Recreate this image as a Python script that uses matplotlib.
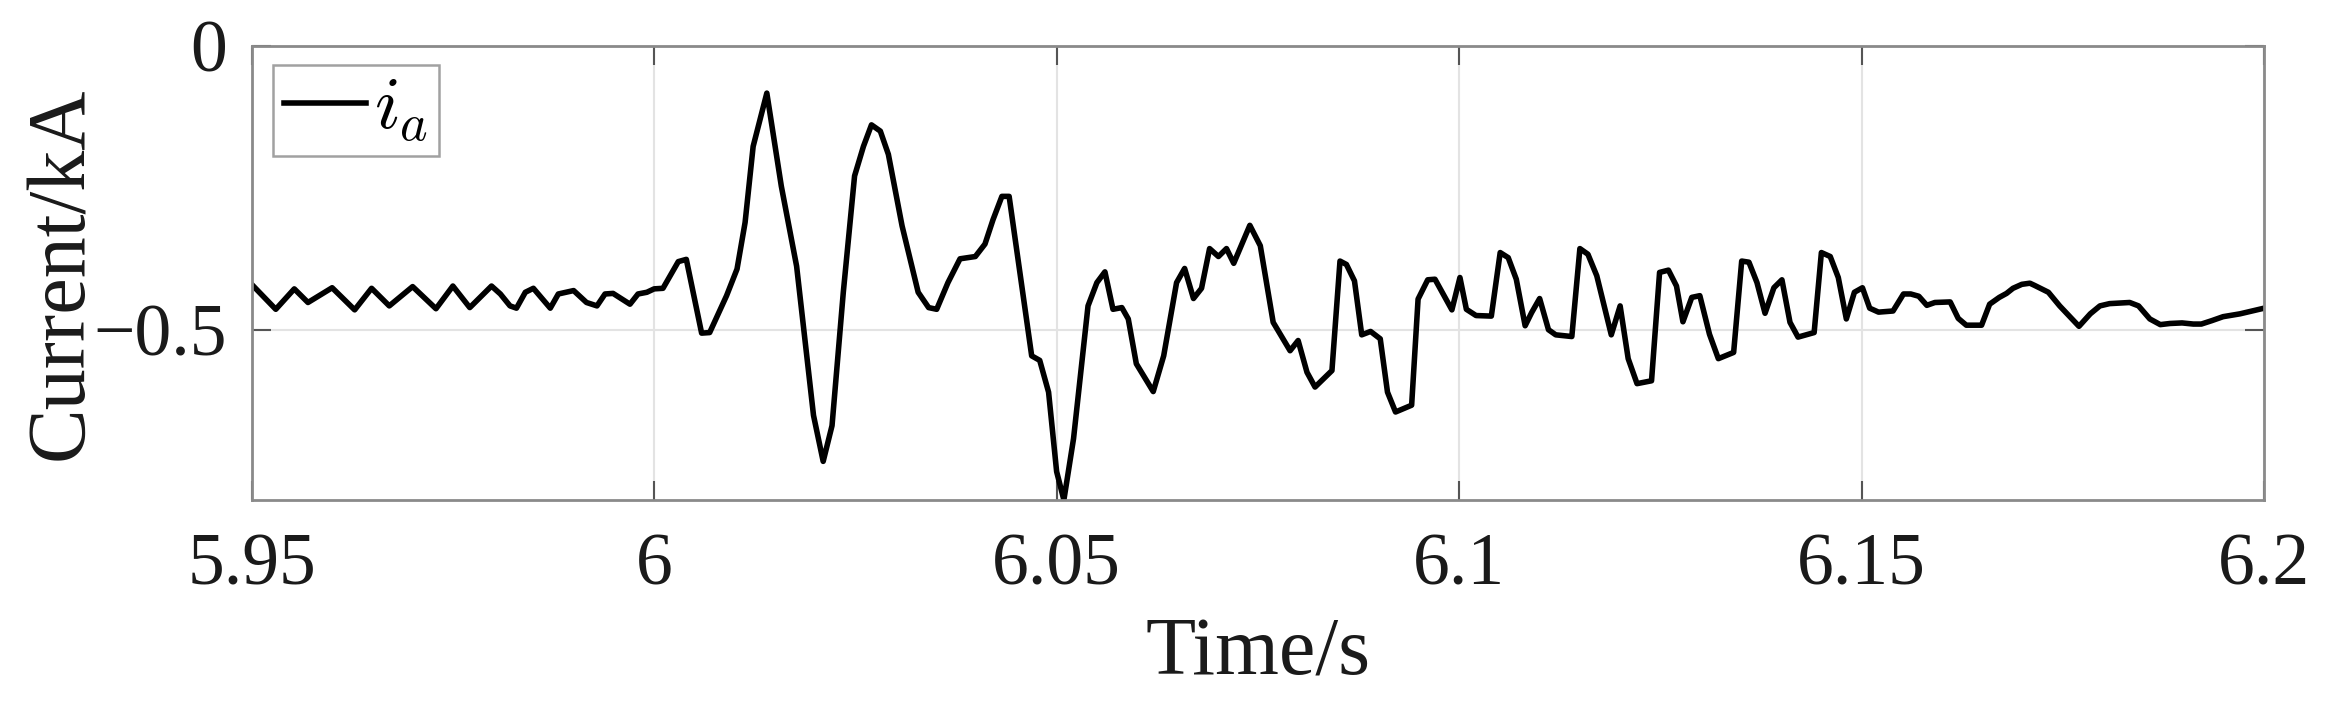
import matplotlib
matplotlib.use("Agg")
import matplotlib.pyplot as plt

plt.rcParams['font.family'] = ['Liberation Serif', 'DejaVu Serif']
plt.rcParams['mathtext.fontset'] = 'cm'

# phase a current (s, kA)
t = [5.9500, 5.9530, 5.9553, 5.9570, 5.9600, 5.9628, 5.9649, 5.9671, 5.9700, 5.9729,
     5.9750, 5.9771, 5.9798, 5.9809, 5.9821, 5.9829, 5.9840, 5.9850, 5.9871, 5.9881,
     5.9900, 5.9916, 5.9929, 5.9939, 5.9949, 5.9970, 5.9980, 5.9991, 6.0000, 6.0011,
     6.0030, 6.0040, 6.0059, 6.0069, 6.0090, 6.0103, 6.0113, 6.0123, 6.0140, 6.0158,
     6.0177, 6.0198, 6.0210, 6.0221, 6.0235, 6.0249, 6.0260, 6.0270, 6.0281, 6.0291,
     6.0308, 6.0328, 6.0341, 6.0351, 6.0365, 6.0380, 6.0399, 6.0411, 6.0421, 6.0432,
     6.0441, 6.0469, 6.0479, 6.0490, 6.0500, 6.0509, 6.0521, 6.0539, 6.0550, 6.0560,
     6.0570, 6.0581, 6.0589, 6.0599, 6.0620, 6.0633, 6.0649, 6.0659, 6.0670, 6.0680,
     6.0690, 6.0701, 6.0711, 6.0720, 6.0740, 6.0753, 6.0769, 6.0790, 6.0800, 6.0811,
     6.0821, 6.0842, 6.0852, 6.0860, 6.0870, 6.0879, 6.0890, 6.0902, 6.0911, 6.0921,
     6.0941, 6.0949, 6.0961, 6.0970, 6.0991, 6.1001, 6.1009, 6.1021, 6.1040, 6.1051,
     6.1061, 6.1071, 6.1082, 6.1090, 6.1100, 6.1111, 6.1120, 6.1140, 6.1150, 6.1160,
     6.1171, 6.1189, 6.1200, 6.1210, 6.1221, 6.1239, 6.1249, 6.1260, 6.1270, 6.1278,
     6.1289, 6.1299, 6.1311, 6.1322, 6.1341, 6.1351, 6.1360, 6.1370, 6.1380, 6.1391,
     6.1401, 6.1411, 6.1421, 6.1441, 6.1450, 6.1461, 6.1471, 6.1481, 6.1491, 6.1501,
     6.1510, 6.1521, 6.1539, 6.1552, 6.1561, 6.1571, 6.1581, 6.1591, 6.1610, 6.1620,
     6.1630, 6.1649, 6.1659, 6.1671, 6.1680, 6.1688, 6.1699, 6.1709, 6.1715, 6.1732,
     6.1746, 6.1770, 6.1784, 6.1796, 6.1808, 6.1821, 6.1833, 6.1844, 6.1858, 6.1871,
     6.1883, 6.1898, 6.1912, 6.1922, 6.1935, 6.1949, 6.1970, 6.1985, 6.2000]
i_a = [-0.420, -0.464, -0.428, -0.452, -0.426, -0.465, -0.427, -0.458, -0.424, -0.463,
       -0.423, -0.461, -0.423, -0.437, -0.458, -0.462, -0.434, -0.427, -0.462, -0.437,
       -0.431, -0.452, -0.458, -0.437, -0.436, -0.455, -0.437, -0.434, -0.428, -0.427,
       -0.380, -0.376, -0.506, -0.505, -0.440, -0.393, -0.311, -0.177, -0.083, -0.247,
       -0.388, -0.651, -0.732, -0.669, -0.434, -0.229, -0.177, -0.139, -0.150, -0.191,
       -0.317, -0.434, -0.461, -0.464, -0.417, -0.375, -0.371, -0.349, -0.306, -0.265,
       -0.265, -0.546, -0.554, -0.610, -0.750, -0.800, -0.692, -0.458, -0.417, -0.398,
       -0.464, -0.461, -0.481, -0.560, -0.609, -0.546, -0.417, -0.392, -0.445, -0.427,
       -0.357, -0.371, -0.357, -0.383, -0.316, -0.352, -0.487, -0.537, -0.519, -0.575,
       -0.601, -0.572, -0.379, -0.385, -0.414, -0.509, -0.503, -0.516, -0.610, -0.645,
       -0.633, -0.446, -0.412, -0.411, -0.465, -0.408, -0.464, -0.475, -0.476, -0.364,
       -0.373, -0.411, -0.493, -0.470, -0.445, -0.500, -0.509, -0.512, -0.357, -0.367,
       -0.405, -0.509, -0.458, -0.551, -0.595, -0.590, -0.399, -0.395, -0.423, -0.486,
       -0.443, -0.440, -0.508, -0.551, -0.540, -0.379, -0.381, -0.417, -0.471, -0.426,
       -0.412, -0.487, -0.513, -0.505, -0.364, -0.371, -0.408, -0.481, -0.434, -0.426,
       -0.462, -0.469, -0.467, -0.437, -0.437, -0.441, -0.457, -0.452, -0.451, -0.480,
       -0.492, -0.492, -0.455, -0.443, -0.436, -0.427, -0.420, -0.418, -0.422, -0.434,
       -0.458, -0.494, -0.472, -0.458, -0.454, -0.453, -0.452, -0.458, -0.481, -0.491,
       -0.489, -0.488, -0.490, -0.490, -0.484, -0.477, -0.472, -0.467, -0.462]

x_ticks = [5.95, 6.0, 6.05, 6.1, 6.15, 6.2]
x_tick_labels = ['5.95', '6', '6.05', '6.1', '6.15', '6.2']
y_ticks = [-0.5, 0]
y_tick_labels = ['\u22120.5', '0']

text_col = '#1a1a1a'

fig = plt.figure(figsize=(23.32, 7.12), dpi=100)
ax = fig.add_axes([0.1079, 0.2978, 0.8630, 0.6376])

ax.plot(t, i_a, color='black', linewidth=4.0, label='$i_a$')

ax.set_xlim(5.95, 6.2)
ax.set_ylim(-0.8, 0)
ax.set_xticks(x_ticks)
ax.set_xticklabels(x_tick_labels)
ax.set_yticks(y_ticks)
ax.set_yticklabels(y_tick_labels)

ax.grid(True, color='#e3e3e3', linewidth=1.5)
ax.set_axisbelow(True)
for sp in ax.spines.values():
    sp.set_color('#8a8a8a')
    sp.set_linewidth(2)
ax.tick_params(axis='both', direction='in', length=14, width=1.5, color='#555555',
               top=True, right=True, labelsize=53, labelcolor=text_col)
ax.tick_params(axis='x', pad=24)
ax.tick_params(axis='y', pad=18)

ax.set_xlabel('Time/s', fontsize=59, color=text_col, labelpad=12)
ax.set_ylabel('Current/kA', fontsize=59, color=text_col, labelpad=-5)

leg = ax.legend(loc='upper left', bbox_to_anchor=(0.0104, 0.958), borderaxespad=0,
                fontsize=54, frameon=True, fancybox=False, handlelength=1.1,
                handletextpad=0.1, borderpad=0.15)
leg.get_frame().set_edgecolor('#8a8a8a')
leg.get_frame().set_linewidth(1.8)

fig.savefig('out.png', dpi=100)
